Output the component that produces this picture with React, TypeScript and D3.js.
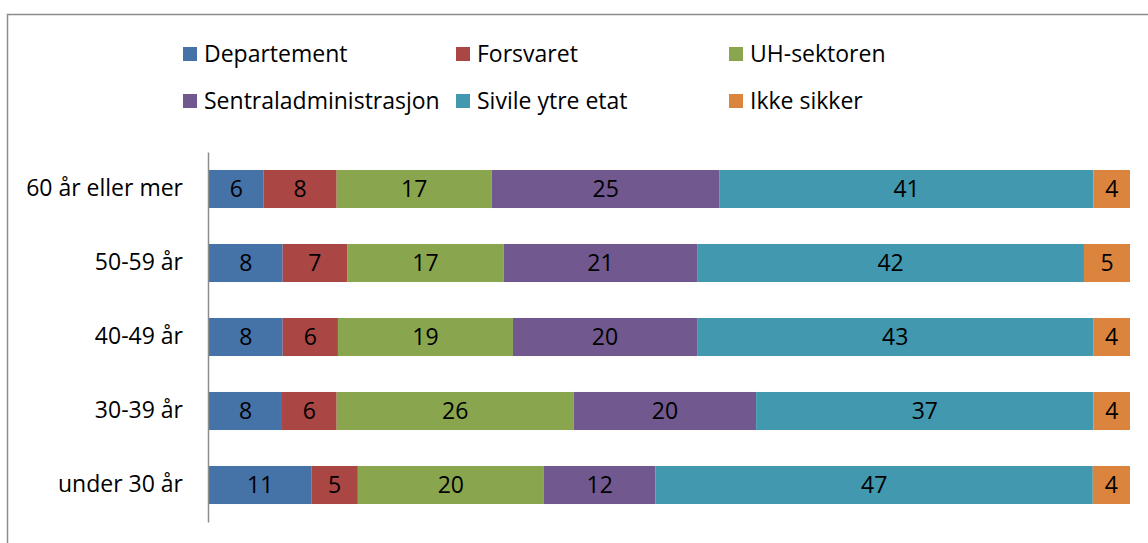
import { useEffect, useRef } from 'react';
import * as d3 from 'd3';

const categories = ['60 år eller mer', '50-59 år', '40-49 år', '30-39 år', 'under 30 år'];
const seriesNames = ['Departement', 'Forsvaret', 'UH-sektoren', 'Sentraladministrasjon', 'Sivile ytre etat', 'Ikke sikker'];
const departement = [6, 8, 8, 8, 11];
const forsvaret = [8, 7, 6, 6, 5];
const uhSektoren = [17, 17, 19, 26, 20];
const sentraladm = [25, 21, 20, 20, 12];
const sivile = [41, 42, 43, 37, 47];
const ikkeSikker = [4, 5, 4, 4, 4];
const colors = ['#4572A7', '#AA4643', '#89A54E', '#71588F', '#4198AF', '#DB843D'];

const W = 1148;
const H = 543;
const FONT = '"Open Sans", sans-serif';
const FS = '23px';

export default function App() {
    const ref = useRef<SVGSVGElement | null>(null);

    useEffect(() => {
        if (!ref.current) return;
        const svg = d3.select(ref.current);
        svg.selectAll('*').remove();

        const series = [departement, forsvaret, uhSektoren, sentraladm, sivile, ikkeSikker];
        const rows = categories.map((c, i) => {
            const row: any = { cat: c };
            seriesNames.forEach((s, j) => { row[s] = series[j][i]; });
            return row;
        });

        // 100% stacked
        const stack = d3.stack<any>().keys(seriesNames).offset(d3.stackOffsetExpand);
        const stacked = stack(rows);

        const x = d3.scaleLinear().domain([0, 1]).range([209, 1130]);
        const y = d3.scaleBand().domain(categories).range([152, 522]).paddingInner(0.486).paddingOuter(0.243);

        // outer frame
        svg.append('rect')
            .attr('x', 7.5).attr('y', 14.5)
            .attr('width', W + 20).attr('height', H + 20)
            .attr('fill', 'white')
            .attr('stroke', '#8c8c8c')
            .attr('stroke-width', 1.5);

        // bars
        const groups = svg.selectAll('.series')
            .data(stacked)
            .enter()
            .append('g')
            .attr('class', 'series')
            .attr('fill', (d, i) => colors[i]);

        groups.selectAll('rect')
            .data(d => d.map(v => ({ v, key: d.key })))
            .enter()
            .append('rect')
            .attr('x', d => x(d.v[0]))
            .attr('y', d => y(d.v.data.cat) as number)
            .attr('width', d => x(d.v[1]) - x(d.v[0]))
            .attr('height', y.bandwidth());

        // value labels
        groups.selectAll('text')
            .data(d => d.map(v => ({ v, key: d.key })))
            .enter()
            .append('text')
            .attr('x', d => (x(d.v[0]) + x(d.v[1])) / 2)
            .attr('y', d => (y(d.v.data.cat) as number) + y.bandwidth() / 2)
            .attr('dy', '0.35em')
            .attr('text-anchor', 'middle')
            .attr('fill', '#000')
            .attr('font-family', FONT)
            .attr('font-size', FS)
            .text(d => d.v.data[d.key]);

        // y axis
        const axis = svg.append('g')
            .attr('transform', 'translate(208,0)')
            .call(d3.axisLeft(y).tickSize(0).tickPadding(25));
        axis.select('.domain').attr('stroke', '#8c8c8c').attr('stroke-width', 1.5);
        axis.selectAll('text')
            .attr('font-family', FONT)
            .attr('font-size', FS)
            .attr('fill', '#000');

        // legend
        const legend = svg.append('g');
        const colX = [183, 456, 729];
        const rowY = [54, 101];
        seriesNames.forEach((s, i) => {
            const g = legend.append('g')
                .attr('transform', `translate(${colX[i % 3]},${rowY[Math.floor(i / 3)]})`);
            g.append('rect')
                .attr('x', 0).attr('y', -7)
                .attr('width', 14).attr('height', 14)
                .attr('fill', colors[i]);
            g.append('text')
                .attr('x', 21).attr('y', 0)
                .attr('dy', '0.35em')
                .attr('font-family', FONT)
                .attr('font-size', FS)
                .attr('fill', '#000')
                .text(s);
        });
    }, []);

    return (
        <svg ref={ref} width={W} height={H} style={{ position: 'absolute', left: 0, top: 0 }} />
    );
}
